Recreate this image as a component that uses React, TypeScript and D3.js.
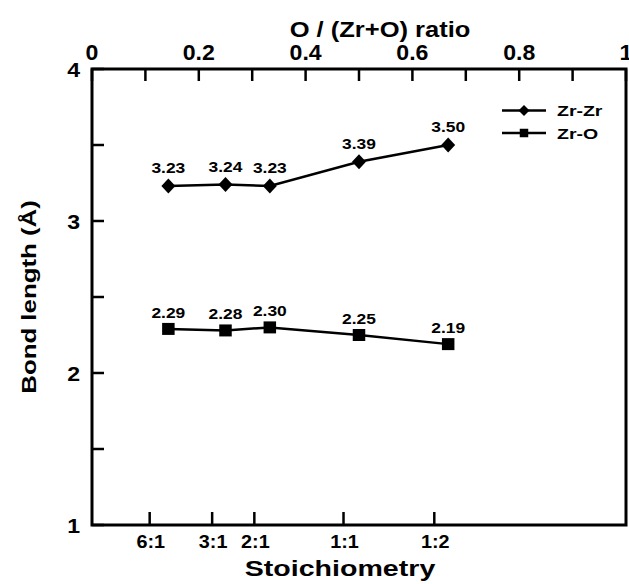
import { useEffect, useRef } from 'react';
import * as d3 from 'd3';

// top axis: O / (Zr+O) ratio of each point
const ratios = [0.143, 0.25, 0.333, 0.5, 0.667];
const zrZr = [3.23, 3.24, 3.23, 3.39, 3.5];
const zrO = [2.29, 2.28, 2.3, 2.25, 2.19];
const labelsZrZr = ['3.23', '3.24', '3.23', '3.39', '3.50'];
const labelsZrO = ['2.29', '2.28', '2.30', '2.25', '2.19'];

// bottom axis ticks (placed on the ratio scale as in the figure)
const stoichLabels = ['6:1', '3:1', '2:1', '1:1', '1:2'];
const stoichPos = [0.108, 0.225, 0.304, 0.471, 0.641];

const topTicks = [0, 0.2, 0.4, 0.6, 0.8, 1];
const topMinor = [0.1, 0.3, 0.5, 0.7, 0.9];
const yTicks = [1, 2, 3, 4];
const yMinor = [1.5, 2.5, 3.5];

const FONT = '"Liberation Sans", Arial, sans-serif';

const diamondPath = (w: number, h: number) =>
  `M0,${-h / 2}L${w / 2},0L0,${h / 2}L${-w / 2},0Z`;
const squarePath = (w: number, h: number) =>
  `M${-w / 2},${-h / 2}h${w}v${h}h${-w}Z`;

const App = () => {
  const svgRef = useRef<SVGSVGElement>(null);

  useEffect(() => {
    const width = 629;
    const height = 584;
    const margin = { top: 69, right: 3, bottom: 59, left: 92 };

    const svg = d3.select(svgRef.current);
    svg.selectAll('*').remove();
    svg.attr('width', width).attr('height', height);

    // text stretched along its direction, like the original figure
    const addText = (
      px: number, py: number, txt: string, size: number, sx: number,
      anchor = 'middle', rot = 0
    ) =>
      svg.append('text')
        .attr('transform', `translate(${px},${py}) rotate(${rot}) scale(${sx},1)`)
        .attr('text-anchor', anchor)
        .style('font', `bold ${size}px ${FONT}`)
        .attr('fill', '#000')
        .text(txt);

    const x = d3.scaleLinear().domain([0, 1]).range([margin.left, width - margin.right]);
    const y = d3.scaleLinear().domain([1, 4]).range([height - margin.bottom, margin.top]);

    const x0 = x(0);
    const x1 = x(1);
    const y0 = y(1);
    const y1 = y(4);

    // frame
    svg.append('rect')
      .attr('x', x0).attr('y', y1)
      .attr('width', x1 - x0).attr('height', y0 - y1)
      .attr('fill', 'none').attr('stroke', '#000').attr('stroke-width', 3);

    // top axis ticks (inward)
    const tickLen = 12;
    [...topTicks, ...topMinor].forEach((t) => {
      svg.append('line')
        .attr('x1', x(t)).attr('x2', x(t))
        .attr('y1', y1).attr('y2', y1 + tickLen)
        .attr('stroke', '#000').attr('stroke-width', 2.5);
    });
    topTicks.forEach((t) => {
      addText(x(t), 60, d3.format('~g')(t), 22, 1.05);
    });

    addText(380, 37, 'O / (Zr+O) ratio', 22, 1.16);

    // left axis
    [...yTicks, ...yMinor].forEach((t) => {
      svg.append('line')
        .attr('x1', x0).attr('x2', x0 + tickLen)
        .attr('y1', y(t)).attr('y2', y(t))
        .attr('stroke', '#000').attr('stroke-width', 2.5);
    });
    yTicks.forEach((t) => {
      addText(x0 - 12, y(t) + 8, String(t), 21, 1.1, 'end');
    });

    addText(36, (y0 + y1) / 2, 'Bond length (Å)', 21, 1.23, 'middle', -90);

    // bottom axis
    stoichPos.forEach((p, i) => {
      svg.append('line')
        .attr('x1', x(p)).attr('x2', x(p))
        .attr('y1', y0).attr('y2', y0 - 13)
        .attr('stroke', '#000').attr('stroke-width', 2.5);
      addText(x(p) + 1, 548, stoichLabels[i], 18, 1.1);
    });

    addText(340, 576, 'Stoichiometry', 22, 1.3);

    // series
    const line = d3.line<number>()
      .x((d, i) => x(ratios[i]))
      .y((d) => y(d));

    const drawSeries = (vals: number[], labels: string[], marker: string, dy: number) => {
      svg.append('path')
        .datum(vals)
        .attr('d', line)
        .attr('fill', 'none')
        .attr('stroke', '#000')
        .attr('stroke-width', 2.5);
      svg.append('g').selectAll('path')
        .data(vals)
        .enter()
        .append('path')
        .attr('d', marker)
        .attr('transform', (d, i) => `translate(${x(ratios[i])},${y(d)})`)
        .attr('fill', '#000');
      vals.forEach((d, i) => {
        addText(x(ratios[i]), y(d) - dy, labels[i], 15, 1.16);
      });
    };

    drawSeries(zrZr, labelsZrZr, diamondPath(14, 15), 13);
    drawSeries(zrO, labelsZrO, squarePath(12.5, 12), 11);

    // legend
    const legend = [
      { name: 'Zr-Zr', marker: diamondPath(11, 11), ly: 110.5 },
      { name: 'Zr-O', marker: squarePath(8.5, 8.5), ly: 133 },
    ];
    legend.forEach((l) => {
      svg.append('line')
        .attr('x1', 502).attr('x2', 546)
        .attr('y1', l.ly).attr('y2', l.ly)
        .attr('stroke', '#000').attr('stroke-width', 2.5);
      svg.append('path')
        .attr('d', l.marker)
        .attr('transform', `translate(524,${l.ly})`)
        .attr('fill', '#000');
      addText(557, l.ly + 5.5, l.name, 15, 1.3, 'start');
    });
  }, []);

  return (
    <div style={{ position: 'absolute', left: 0, top: 0 }}>
      <svg ref={svgRef}></svg>
    </div>
  );
};

export default App;
